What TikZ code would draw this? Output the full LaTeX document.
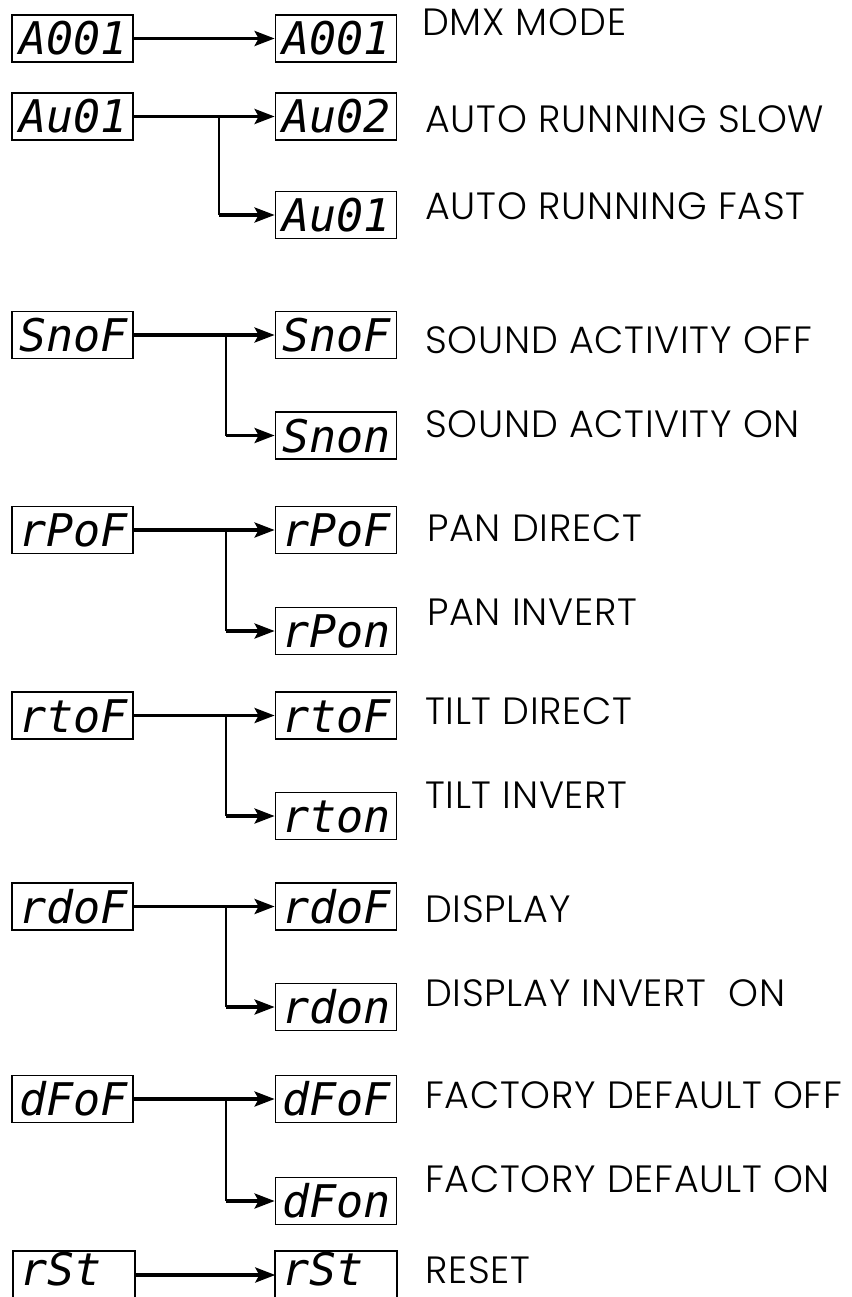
\documentclass[tikz,border=0pt]{standalone}
\usepackage{fontspec}
\usetikzlibrary{arrows.meta}
\newfontfamily\labfont[LetterSpace=2]{Poppins Light}
\newfontfamily\segfont{DejaVu Sans Mono}
\begin{document}
\begin{tikzpicture}[x=1pt,y=-1pt,
  dispbase/.style={minimum width=121pt, minimum height=47pt,
    text width=107pt, inner xsep=7pt, inner ysep=0pt, align=left,
    font=\segfont\itshape\fontsize{45}{45}\selectfont, text height=33pt, text depth=0pt},
  disp/.style={dispbase, draw, line width=1.8pt},
  frame/.style={line width=1.8pt},
  lab/.style={anchor=base west, inner sep=0pt, text depth=0pt, font=\labfont\fontsize{38}{40}\selectfont},
  link/.style={line width=3.3pt, -{Stealth[length=20pt,width=15pt,inset=4pt]}},
  drop/.style={line width=2pt}]
\useasboundingbox (0,0) rectangle (851,1297);
\clip (0,0) rectangle (851,1297);
% boxes
\node[disp] (l1) at (72.5,38.5) {A001};
\node[disp] (r1) at (336,38.5) {A001};
\node[disp] (l2) at (72.5,116.5) {Au01};
\node[disp] (r2) at (336,116.5) {Au02};
\node[disp] (r3) at (336,215) {Au01};
\node[disp] (l4) at (72.5,335) {SnoF};
\node[disp] (r4) at (336,335) {SnoF};
\node[disp] (r5) at (336,435.5) {Snon};
\node[disp] (l6) at (72.5,530) {rPoF};
\node[disp] (r6) at (336,530) {rPoF};
\node[disp] (r7) at (336,631) {rPon};
\node[disp] (l8) at (72.5,715.5) {rtoF};
\node[disp] (r8) at (336,715.5) {rtoF};
\node[disp] (r9) at (336,816) {rton};
\node[disp] (l10) at (72.5,906.5) {rdoF};
\node[disp] (r10) at (336,906.5) {rdoF};
\node[disp] (r11) at (336,1007) {rdon};
\node[disp] (l12) at (72.5,1099) {dFoF};
\node[disp] (r12) at (336,1099) {dFoF};
\node[disp] (r13) at (336,1201) {dFon};
\node[dispbase, minimum height=45pt, text depth=9pt] (l14) at (74,1273.5) {rSt};
\node[dispbase, minimum height=45pt, text depth=9pt] (r14) at (336,1273.5) {rSt};
\draw[frame] ([yshift=-3pt]l14.south west) -- (l14.north west) -- (l14.north east) -- ([yshift=-3pt]l14.south east);
\draw[frame] ([yshift=-3pt]r14.south west) -- (r14.north west) -- (r14.north east) -- ([yshift=-3pt]r14.south east);
% connectors
\draw[link] (l1.east) -- (r1.west);
\draw[link] (l2.east) -- (r2.west);
\coordinate (b2) at (219,116.5);
\draw[drop] (b2) -- (b2 |- r3.west);
\draw[link] (b2 |- r3.west) -- (r3.west);
\draw[link] (l4.east) -- (r4.west);
\coordinate (b4) at (226,335);
\draw[drop] (b4) -- (b4 |- r5.west);
\draw[link] (b4 |- r5.west) -- (r5.west);
\draw[link] (l6.east) -- (r6.west);
\coordinate (b6) at (226,530);
\draw[drop] (b6) -- (b6 |- r7.west);
\draw[link] (b6 |- r7.west) -- (r7.west);
\draw[link] (l8.east) -- (r8.west);
\coordinate (b8) at (226,715.5);
\draw[drop] (b8) -- (b8 |- r9.west);
\draw[link] (b8 |- r9.west) -- (r9.west);
\draw[link] (l10.east) -- (r10.west);
\coordinate (b10) at (226,906.5);
\draw[drop] (b10) -- (b10 |- r11.west);
\draw[link] (b10 |- r11.west) -- (r11.west);
\draw[link] (l12.east) -- (r12.west);
\coordinate (b12) at (226,1099);
\draw[drop] (b12) -- (b12 |- r13.west);
\draw[link] (b12 |- r13.west) -- (r13.west);
\draw[link] (l14.east |- 0,1275) -- (r14.west |- 0,1275);
% labels
\node[lab] (t1) at (422,36) {DMX MODE};
\node[lab] (t2) at (425,133) {AUTO RUNNING SLOW};
\node[lab] (t3) at (425,220) {AUTO RUNNING FAST};
\node[lab] (t4) at (425,353) {SOUND ACTIVITY OFF};
\node[lab] (t5) at (425,437) {SOUND ACTIVITY ON};
\node[lab] (t6) at (427,541) {PAN DIRECT};
\node[lab] (t7) at (427,625) {PAN INVERT};
\node[lab] (t8) at (425,724) {TILT DIRECT};
\node[lab] (t9) at (425,808) {TILT INVERT};
\node[lab] (t10) at (425,922) {DISPLAY};
\node[lab] (t11) at (425,1006) {DISPLAY INVERT\ \ ON};
\node[lab] (t12) at (425,1108) {FACTORY DEFAULT OFF};
\node[lab] (t13) at (425,1192) {FACTORY DEFAULT ON};
\node[lab] (t14) at (425,1283) {RESET};
\end{tikzpicture}
\end{document}
